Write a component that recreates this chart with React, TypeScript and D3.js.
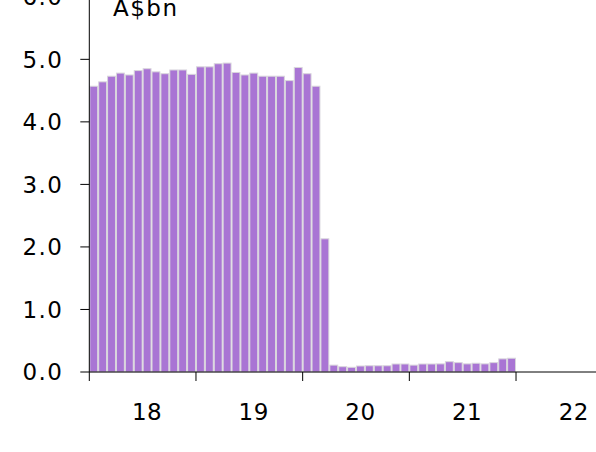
import React from "react";
import * as d3 from "d3";

const values: number[] = [
  4.57, 4.64, 4.73, 4.78, 4.75, 4.82, 4.85, 4.80, 4.77, 4.83, 4.83, 4.76,
  4.88, 4.88, 4.93, 4.94, 4.79, 4.75, 4.78, 4.73, 4.73, 4.73, 4.66, 4.87,
  4.77, 4.57, 2.13, 0.11, 0.085, 0.075, 0.096, 0.10, 0.10, 0.10, 0.128, 0.128,
  0.11, 0.128, 0.128, 0.13, 0.165, 0.15, 0.13, 0.14, 0.13, 0.15, 0.21, 0.22,
];
const yearLabels: string[] = ["18", "19", "20", "21", "22"];
const yTicks: number[] = [0, 1, 2, 3, 4, 5, 6];
const unitLabel = "A$bn";

const W = 596;
const H = 452;
const FONT = "'DejaVu Sans', sans-serif";

export default function App() {
  const x = d3.scaleLinear().domain([0, 60]).range([89.3, 622.7]);
  const y = d3.scaleLinear().domain([0, 6]).range([372, -3.2]);
  const months = d3.range(values.length);
  const yearTicks = [0, 12, 24, 36, 48];
  const bw = x(1) - x(0);

  return (
    <svg
      width={W}
      height={H}
      style={{ position: "absolute", left: 0, top: 0, background: "#fff" }}
    >
      {months.map((i) => (
        <rect
          key={i}
          x={x(i) + 0.5}
          y={y(values[i])}
          width={bw - 1}
          height={y(0) - y(values[i])}
          fill="#a975d4"
          stroke="#d9d6dc"
          strokeWidth={1}
        />
      ))}
      {/* y axis */}
      <line x1={x(0)} x2={x(0)} y1={-5} y2={y(0)} stroke="#000" strokeWidth={1} />
      {yTicks.map((t) => (
        <g key={t}>
          <line x1={x(0) - 9} x2={x(0)} y1={y(t)} y2={y(t)} stroke="#000" strokeWidth={1} />
          <text
            x={63.5}
            y={y(t)}
            dy="0.36em"
            textAnchor="end"
            fontFamily={FONT}
            fontSize={23}
            letterSpacing={1.5}
            fill="#000"
          >
            {t.toFixed(1)}
          </text>
        </g>
      ))}
      {/* x axis */}
      <line x1={x(0)} x2={W} y1={y(0)} y2={y(0)} stroke="#000" strokeWidth={1} />
      {yearTicks.map((m) => (
        <line key={m} x1={x(m)} x2={x(m)} y1={y(0)} y2={y(0) + 9} stroke="#000" strokeWidth={1} />
      ))}
      {yearLabels.map((lab, i) => (
        <text
          key={lab}
          x={x(i * 12 + 6.5)}
          y={420}
          textAnchor="middle"
          fontFamily={FONT}
          fontSize={23}
          letterSpacing={0.5}
          fill="#000"
        >
          {lab}
        </text>
      ))}
      <text x={113} y={16} fontFamily={FONT} fontSize={23} letterSpacing={1.5} fill="#000">
        {unitLabel}
      </text>
    </svg>
  );
}
